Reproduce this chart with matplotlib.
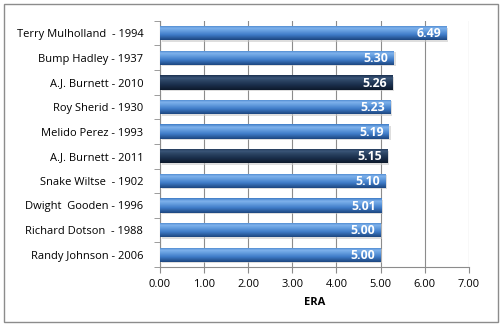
import numpy as np
import matplotlib.pyplot as plt
from matplotlib.colors import LinearSegmentedColormap
from matplotlib.patches import Rectangle

# pitchers, top to bottom
names = ['Terry Mulholland  - 1994', 'Bump Hadley - 1937', 'A.J. Burnett - 2010',
         'Roy Sherid - 1930', 'Melido Perez - 1993', 'A.J. Burnett - 2011',
         'Snake Wiltse  - 1902', 'Dwight  Gooden - 1996', 'Richard Dotson  - 1988',
         'Randy Johnson - 2006']
era = [6.49, 5.30, 5.26, 5.23, 5.19, 5.15, 5.10, 5.01, 5.00, 5.00]
highlight = [False, False, True, False, False, True, False, False, False, False]
xticks = [0, 1, 2, 3, 4, 5, 6, 7]

blue_map = LinearSegmentedColormap.from_list(
    'blue', [(0, '#3f7cc6'), (0.2, '#7fb2ec'), (0.35, '#6aa2e2'),
             (0.65, '#3f7cc8'), (1, '#1d4680')])
navy_map = LinearSegmentedColormap.from_list(
    'navy', [(0, '#1c3150'), (0.2, '#3b5679'), (0.35, '#2d4666'),
             (0.65, '#1b2f4c'), (1, '#0d1a2c')])

plt.rcParams['font.family'] = ['Open Sans', 'DejaVu Sans']

fig = plt.figure(figsize=(5.03, 3.26), dpi=100)
fig.patches.append(Rectangle((0.008, 0.012), 0.982, 0.976, transform=fig.transFigure,
                             fill=False, edgecolor='#8c8c8c', linewidth=1))
ax = fig.add_axes([0.318, 0.181, 0.614, 0.755])

y = np.arange(len(names))
h = 0.58
grad = np.linspace(0, 1, 64).reshape(-1, 1)

# shadows
ax.barh(y + 0.06, era, height=h, left=0.04, color='#c8c8c8', alpha=0.6, zorder=2)
bars = ax.barh(y, era, height=h, color='none', zorder=3)
for bar, hl in zip(bars, highlight):
    x0, y0 = bar.get_x(), bar.get_y()
    w, hh = bar.get_width(), bar.get_height()
    im = ax.imshow(grad, cmap=navy_map if hl else blue_map, aspect='auto',
                   extent=(x0, x0 + w, y0 + hh, y0), zorder=3)
    im.set_clip_path(bar)
    ax.text(x0 + w - 0.12, y0 + hh / 2 + 0.03, f'{w:.2f}', ha='right', va='center',
            color='white', fontsize=8.8, fontweight='bold', zorder=4)

ax.set_xlim(0, 7)
ax.set_ylim(len(names) - 0.5, -0.5)
ax.set_xticks(xticks)
ax.set_xticklabels([f'{v:.2f}' for v in xticks], fontsize=8)
ax.set_yticks(y)
ax.set_yticklabels(names, fontsize=8)
ax.set_yticks(np.arange(-0.5, len(names)), minor=True)
ax.tick_params(axis='y', which='major', length=0, pad=12)
ax.tick_params(axis='y', which='minor', length=4, color='#8c8c8c')
ax.tick_params(axis='x', length=4, color='#8c8c8c', pad=5)
ax.set_xlabel('ERA', fontsize=8, fontweight='bold', labelpad=5)
ax.grid(axis='x', color='#8c8c8c', linewidth=0.8, zorder=0)
ax.set_axisbelow(True)
for side in ['top', 'right']:
    ax.spines[side].set_visible(False)
for side in ['left', 'bottom']:
    ax.spines[side].set_color('#8c8c8c')

fig.savefig('out.png', dpi=100)
